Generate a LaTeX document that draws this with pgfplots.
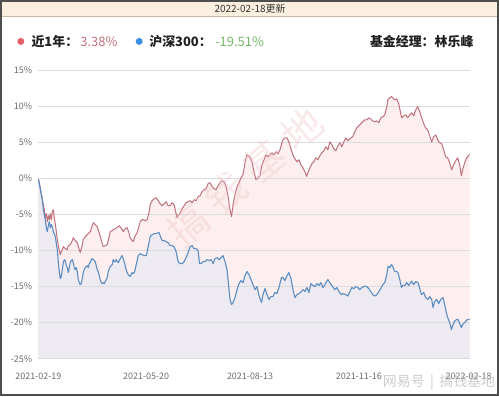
\documentclass[border=0pt]{standalone}
\usepackage{fontspec}
\setmainfont{Noto Sans CJK SC}
\usepackage{pgfplots}
\usepackage{pgfplotstable}
\pgfplotsset{compat=1.18}
\usepgfplotslibrary{fillbetween}
\pgfplotsset{
  layers/mylayers/.define layer set={
    axis background,pre main,axis grid,axis ticks,axis lines,axis tick labels,main,axis descriptions,axis foreground
  }{/pgfplots/layers/standard},
}
\definecolor{headbg}{HTML}{FBF0DF}
\definecolor{headline}{HTML}{C8B9A2}
\definecolor{headtext}{HTML}{333333}
\definecolor{framec}{HTML}{4E4E4E}
\definecolor{fundline}{HTML}{BF727B}
\definecolor{hsline}{HTML}{5A8EC2}
\definecolor{fundfill}{HTML}{FDEFEF}
\definecolor{hsfill}{HTML}{EEEAF2}
\definecolor{gridc}{HTML}{DCDCDE}
\definecolor{tickc}{HTML}{6C6C6C}
\definecolor{reddot}{HTML}{E35D68}
\definecolor{bluedot}{HTML}{3B8FE0}
\definecolor{redtxt}{HTML}{C4707C}
\definecolor{greentxt}{HTML}{74B666}
\definecolor{wmark}{HTML}{EDBFC3}

\pgfplotstableread{
x y
0 0
2 -1.26
4 -2.92
6 -4.31
7 -5.42
8 -4.86
9 -5.97
10 -5.14
11 -5.70
12 -4.86
13 -5.70
14 -4.59
15 -4.31
16 -5.42
17 -6.25
18 -7.36
19 -8.47
20 -9.30
22 -10.55
23 -10.13
24 -9.85
25 -9.44
27 -9.72
29 -9.85
30 -9.30
32 -9.16
34 -8.61
35 -8.19
37 -8.61
39 -8.89
41 -9.85
42 -10.27
44 -9.16
45 -8.47
47 -8.05
49 -7.78
51 -7.50
52 -7.36
54 -6.53
55 -6.11
57 -6.39
59 -6.67
61 -7.50
62 -8.05
64 -9.02
65 -9.44
67 -9.30
69 -9.16
71 -8.05
72 -7.36
74 -7.22
75 -7.08
77 -6.94
79 -6.81
81 -6.53
82 -6.67
84 -7.08
85 -7.36
87 -6.94
89 -6.81
91 -7.64
92 -8.19
94 -8.61
95 -8.75
97 -7.92
99 -7.50
101 -6.53
102 -5.97
104 -5.70
105 -5.70
107 -5.84
109 -5.70
111 -4.59
112 -3.62
114 -3.06
116 -2.79
118 -2.65
120 -3.06
122 -3.48
124 -3.76
126 -3.48
128 -3.20
130 -3.76
132 -3.76
134 -3.34
136 -3.62
138 -4.86
139 -5.42
140 -5.14
142 -4.73
144 -4.17
146 -3.76
148 -3.34
150 -3.20
152 -3.06
154 -3.34
156 -2.92
158 -3.06
160 -2.51
162 -2.37
164 -1.81
166 -1.54
168 -1.40
170 -0.71
172 -0.57
174 -1.12
176 -1.40
178 -1.54
180 -0.98
182 -0.57
184 -0.29
186 -0.43
188 -1.12
190 -2.37
192 -4.31
193.5 -5.28
195 -3.62
197 -2.23
199 -1.12
201 -0.57
203 0.12
205 0.54
207 2.20
208.7 3.31
210 3.17
212 3.03
214 2.34
216 0.96
218 -0.15
220 0.12
222 0.40
224 1.93
226 2.62
228 3.31
230 3.03
232 3.31
234 3.59
236 3.31
238 3.73
240 3.45
242 4.01
244 4.98
245 5.39
247 5.67
249 5.67
251 5.11
253 4.14
255 3.31
257 2.76
259 2.34
261 2.62
263 1.93
265 1.51
267 0.96
268.7 0.30
270 0.82
272 1.51
274 2.07
276 2.34
278 2.90
280 2.62
282 3.17
284 3.59
286 3.87
288 4.42
290 4.01
292 5.11
294 4.70
296 4.14
298 3.87
300 4.56
302 4.98
304 4.42
306 5.11
308 5.67
310 5.25
312 5.53
315 5.85
317 6.50
319 7.05
321 7.33
323 7.61
325 7.89
327 8.16
329 8.16
331 8.44
333 8.30
335 8.02
337 7.89
339 8.02
341 7.75
343 8.44
345 8.58
347 8.86
349 9.97
350 10.94
352 11.22
353.7 11.39
355 11.22
357 10.94
359 11.07
361 10.38
363 9.00
364 8.44
366 8.72
368 8.86
370 8.44
372 8.86
374 9.13
376 8.72
378 9.55
380 10.01
382 9.27
384 8.44
386 7.61
388 7.05
390 6.78
392 5.95
394 5.11
396 5.81
398 6.08
400 5.39
402 4.98
404 4.84
406 4.01
408 3.03
410 2.90
412 2.20
414 1.23
416 1.93
418 2.48
420 2.90
422 1.93
423.7 0.40
425 1.23
427 2.20
429 2.90
432 3.38
}\fund

\pgfplotstableread{
x y
0 0
2 -1.54
4 -2.92
5 -4.31
7 -5.70
8 -6.81
9 -7.36
10 -6.53
11 -5.97
12 -6.81
13 -6.39
14 -6.67
15 -7.36
16 -7.64
17 -8.05
18 -9.02
19 -9.85
20 -11.52
21 -12.90
22 -13.87
23 -13.60
24 -12.63
25 -11.66
26 -11.24
27 -11.38
28 -12.07
29 -12.35
30 -13.04
31 -12.35
32 -11.66
33 -11.38
34 -11.24
35 -11.66
36 -12.35
37 -12.63
38 -12.35
39 -12.90
40 -14.01
41 -14.43
42 -14.71
43 -14.57
44 -13.87
45 -13.04
46 -12.63
47 -12.35
48 -12.21
49 -12.07
50 -12.35
51 -11.80
52 -11.66
53 -11.24
54 -11.10
55 -11.24
57 -11.52
58 -12.07
59 -12.63
60 -12.90
62 -14.01
63 -14.43
64 -14.57
65 -14.43
66 -14.57
67 -14.29
68 -14.01
69 -13.73
70 -12.90
71 -12.49
72 -12.21
74 -11.93
75 -11.24
76 -11.52
77 -11.52
78 -11.24
79 -11.52
80 -11.66
81 -11.38
82 -11.10
83 -10.82
84 -10.69
85 -11.10
86 -11.52
87 -12.07
88 -12.63
89 -13.04
90 -13.32
91 -13.46
92 -13.60
93 -13.32
94 -13.04
95 -13.18
96 -13.04
97 -12.63
98 -11.93
99 -11.38
100 -10.69
101 -10.55
102 -10.41
104 -10.55
106 -10.69
108 -10.69
109 -10.13
110 -9.44
112 -8.05
114 -7.78
116 -7.64
118 -7.64
120 -7.50
121 -7.50
122 -7.92
124 -8.61
126 -8.61
128 -8.75
130 -8.89
132 -9.30
134 -9.30
136 -9.44
138 -10.13
140 -11.52
142 -11.80
144 -11.80
146 -11.52
148 -10.96
150 -10.27
152 -9.44
154 -9.30
156 -9.72
158 -9.72
160 -9.99
161.5 -11.80
163 -11.80
165 -11.52
167 -11.52
169 -11.24
171 -11.38
173 -11.24
175 -11.80
177 -11.10
179 -10.96
181 -11.24
183 -10.96
185 -10.69
187 -11.52
189 -12.63
190.5 -14.71
192 -16.77
193.5 -17.48
195 -17.20
197 -16.51
199 -15.40
201 -14.57
203 -14.15
205 -14.43
207 -13.46
209 -12.90
211 -13.32
213 -14.01
215 -14.71
217 -15.40
219 -14.98
221 -16.23
223.5 -17.20
225 -16.10
227 -15.26
229 -16.10
231 -16.77
233 -16.37
235 -16.37
237 -15.81
239 -15.95
241 -15.12
243.5 -13.73
245 -13.73
247 -14.15
249 -13.46
251 -13.04
253 -13.87
255 -15.40
257 -16.51
259 -16.10
261 -15.95
263.5 -15.68
265 -15.40
267 -15.68
269 -15.12
271 -15.81
273 -14.57
275 -14.84
277 -14.98
279 -14.57
281 -14.84
283 -14.43
285 -15.12
287 -14.71
290 -14.01
292 -14.43
294 -14.84
297 -15.40
299 -15.12
301 -15.68
303.5 -16.10
305 -15.95
308 -16.10
310 -16.30
312 -15.68
314 -15.12
316 -15.26
318 -14.98
320 -15.12
322 -15.40
324 -15.12
327 -14.91
329 -14.98
331 -15.26
333.5 -15.81
335 -16.10
337 -16.30
339 -16.10
341 -15.68
343.5 -15.12
345 -14.71
347 -14.43
349 -13.32
350.3 -12.14
352 -12.35
353.7 -11.93
355 -12.21
357 -12.90
359 -12.90
360.3 -13.04
362 -14.01
363.7 -15.12
365 -14.84
367 -14.84
369 -14.43
371 -14.84
373.7 -14.22
376 -14.71
378 -14.29
380.3 -14.43
382 -15.26
383.7 -16.10
386 -15.81
388 -16.51
390.3 -16.77
392 -16.37
394 -16.77
395.3 -17.89
397 -17.06
399 -16.77
401 -17.34
403 -16.77
405.3 -16.51
407 -17.48
408.7 -18.59
410 -19.28
412 -19.98
413.7 -20.95
415 -20.40
417 -19.76
419 -19.56
420.3 -19.56
422 -20.11
423.7 -20.67
425 -20.25
427 -19.98
429 -19.63
432 -19.51
}\hs

\begin{document}
\begin{tikzpicture}
% header band
\fill[headbg] (0,381bp) rectangle (499bp,397bp);
\draw[headline, line width=0.8bp] (0,381bp) -- (499bp,381bp);
\node[text=headtext, font=\fontsize{10}{12}\selectfont, inner sep=0pt] at (250bp,388.5bp) {2022-02-18更新};
% legend row
\fill[reddot] (20.5bp,355.5bp) circle (3.5bp);
\node[anchor=west, inner sep=0pt, font=\fontsize{13}{15}\selectfont\bfseries, text=black!88] at (31bp,355.5bp) {近1年：};
\node[anchor=west, inner sep=0pt, font=\fontsize{13}{15}\selectfont, text=redtxt] at (80bp,355.5bp) {3.38\%};
\fill[bluedot] (139bp,355.5bp) circle (3.5bp);
\node[anchor=west, inner sep=0pt, font=\fontsize{13}{15}\selectfont\bfseries, text=black!88] at (149bp,355.5bp) {沪深300：};
\node[anchor=west, inner sep=0pt, font=\fontsize{13}{15}\selectfont, text=greentxt] at (215bp,355.5bp) {-19.51\%};
\node[anchor=east, inner sep=0pt, font=\fontsize{13}{15}\selectfont\bfseries, text=black!88] at (474bp,355.5bp) {基金经理：林乐峰};

\begin{axis}[
  at={(38bp,37.7bp)}, anchor=south west,
  scale only axis, width=432bp, height=288.6bp,
  xmin=0, xmax=432, ymin=-25, ymax=15,
  set layers=mylayers,
  axis line style={draw=none},
  tick style={draw=none},
  ymajorgrids, grid style={gridc, line width=0.9bp},
  ytick={-25,-20,-15,-10,-5,0,5,10,15},
  yticklabels={-25\%,-20\%,-15\%,-10\%,-5\%,0\%,5\%,10\%,15\%},
  xtick={0,108,212,321,431},
  xticklabels={2021-02-19,2021-05-20,2021-08-13,2021-11-16,2022-02-18},
  tick label style={font=\fontsize{9}{10}\selectfont, text=tickc, inner sep=0pt},
  yticklabel style={anchor=east},
  yticklabel shift=6bp,
  xticklabel style={anchor=north},
  xticklabel shift=14.5bp,
]
\addplot[draw=none, name path=base, forget plot] coordinates {(0,-25) (432,-25)};
\addplot[draw=none, name path=fundp, forget plot] table[x=x,y=y] {\fund};
\addplot[draw=none, name path=hsp, forget plot] table[x=x,y=y] {\hs};
\addplot[fill=fundfill, draw=none] fill between[of=fundp and base];
\addplot[fill=hsfill, draw=none] fill between[of=hsp and base];
\addplot[fundline, line width=1bp, line join=round] table[x=x,y=y] {\fund};
\addplot[hsline, line width=1.1bp, line join=round] table[x=x,y=y] {\hs};
\end{axis}
% watermark
\node[rotate=40, text=wmark, opacity=0.35, font=\fontsize{40}{42}\selectfont, inner sep=0pt] at (245bp,220bp) {搞\hspace{10bp}钱\hspace{10bp}基\hspace{10bp}地};
\node[anchor=west, text=black!25, opacity=0.8, font=\fontsize{14}{16}\selectfont, inner sep=0pt] at (383bp,14bp) {网易号 \,|\, 搞钱基地};
% frame
\draw[framec, line width=2bp] (1bp,1bp) rectangle (498bp,396bp);
\end{tikzpicture}
\end{document}
